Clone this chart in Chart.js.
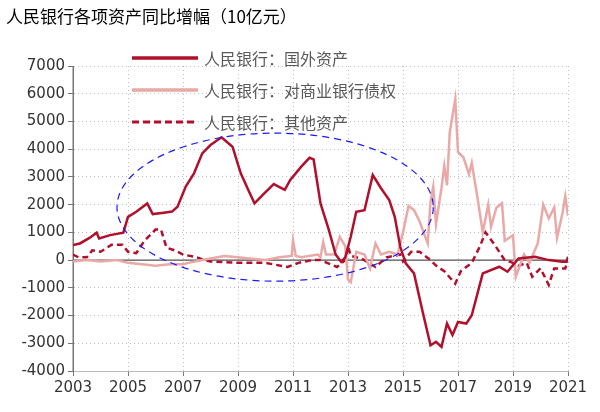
<!DOCTYPE html>
<html><head><meta charset="utf-8">
<script src="https://cdn.jsdelivr.net/npm/chart.js@4"></script>
<style>
body{margin:0;width:600px;height:412px;overflow:hidden;background:#fff;font-family:"Noto Sans CJK SC",sans-serif}
#wrap{position:absolute;left:0;top:0;width:600px;height:412px}
#title{position:absolute;left:6px;top:3px;font-size:17px;color:#000}
.lg{position:absolute;left:132px;font-size:16px;color:#595959;display:flex;align-items:center}
.lg svg{margin-right:6px}
</style></head><body>
<div id="wrap"><canvas id="c" width="600" height="412"></canvas></div>
<div id="title">人民银行各项资产同比增幅（10亿元）</div>
<div class="lg" style="top:46px"><svg width="66" height="6"><line x1="0" y1="3" x2="66" y2="3" stroke="#B0102C" stroke-width="3.5"/></svg>人民银行：国外资产</div>
<div class="lg" style="top:78px"><svg width="66" height="6"><line x1="0" y1="3" x2="66" y2="3" stroke="#E8A9A7" stroke-width="3.5"/></svg>人民银行：对商业银行债权</div>
<div class="lg" style="top:110px"><svg width="66" height="6"><line x1="0" y1="3" x2="66" y2="3" stroke="#B0102C" stroke-width="3" stroke-dasharray="7,4"/></svg>人民银行：其他资产</div>
<script>
const foreignX=[2003.0,2003.25,2003.6,2003.86,2003.95,2004.35,2004.83,2005.0,2005.3,2005.7,2005.9,2006.3,2006.6,2006.8,2007.1,2007.4,2007.7,2008.0,2008.4,2008.8,2009.1,2009.4,2009.6,2009.9,2010.3,2010.7,2010.9,2011.3,2011.6,2011.75,2012.0,2012.3,2012.55,2012.75,2012.9,2013.1,2013.3,2013.6,2013.9,2014.2,2014.5,2014.7,2014.9,2015.1,2015.4,2015.7,2016.0,2016.2,2016.4,2016.6,2016.8,2017.0,2017.3,2017.5,2017.9,2018.5,2018.8,2019.2,2019.8,2020.3,2020.8,2020.95,2021.0];
const foreignY=[540,600,800,990,780,900,990,1560,1745,2045,1660,1710,1750,1925,2650,3130,3850,4150,4430,4090,3130,2470,2045,2350,2740,2530,2890,3370,3690,3630,2045,1100,200,-60,100,840,1745,1800,3070,2590,2165,1560,480,-120,-480,-1800,-3070,-2950,-3130,-2290,-2700,-2230,-2290,-1990,-480,-240,-420,60,120,0,-60,-60,120];
const loansX=[2003.0,2003.5,2004.0,2004.6,2005.0,2005.5,2006.0,2006.5,2007.0,2007.2,2007.7,2008.5,2009.0,2009.5,2010.0,2010.5,2010.95,2011.0,2011.1,2011.3,2011.9,2012.0,2012.1,2012.2,2012.5,2012.7,2012.9,2013.0,2013.1,2013.3,2013.6,2013.8,2014.0,2014.2,2014.5,2014.8,2015.0,2015.2,2015.4,2015.6,2015.9,2016.0,2016.1,2016.2,2016.4,2016.5,2016.6,2016.7,2016.9,2017.0,2017.2,2017.4,2017.5,2017.7,2017.9,2018.1,2018.2,2018.4,2018.6,2018.7,2019.0,2019.1,2019.4,2019.6,2019.9,2020.1,2020.3,2020.5,2020.6,2020.8,2020.9,2021.0];
const loansY=[-50,0,-50,0,-100,-150,-200,-150,-150,-100,0,150,100,50,0,100,150,720,150,100,200,100,650,200,200,840,500,-700,-800,300,200,-300,600,200,300,200,1000,1950,1800,1400,600,2100,2650,1300,2600,3400,2700,4600,5800,3900,3700,3100,3500,2300,1000,2000,1200,1900,2050,700,900,-600,200,-100,600,2000,1500,1900,800,1700,2300,1600];
const otherX=[2003.0,2003.2,2003.5,2003.7,2004.0,2004.4,2004.8,2005.0,2005.3,2005.6,2006.0,2006.2,2006.4,2006.7,2007.0,2007.5,2007.8,2008.0,2009.0,2010.0,2010.8,2011.2,2011.7,2012.0,2012.6,2012.9,2013.0,2013.1,2013.5,2014.0,2014.4,2014.9,2015.0,2015.3,2015.6,2016.0,2016.2,2016.5,2016.9,2017.1,2017.5,2017.8,2018.0,2018.3,2018.7,2019.0,2019.2,2019.5,2019.7,2020.0,2020.3,2020.5,2020.9,2021.0];
const otherY=[200,100,100,350,300,550,550,300,250,700,1100,1100,450,350,200,100,0,-50,-100,-100,-250,-100,0,0,-250,0,500,150,50,-250,100,200,-50,300,300,0,-200,-400,-850,-400,-100,500,1000,600,0,-100,-200,-100,-600,-300,-900,-300,-300,0];
const yearTicks=[2003,2005,2007,2009,2011,2013,2015,2017,2019,2021];
const zip=(xs,ys)=>xs.map((x,i)=>({x:x,y:ys[i]}));
const deco={id:'deco',beforeDatasetsDraw(ch){const {ctx,scales:{x,y},chartArea:a}=ch;ctx.save();ctx.strokeStyle='#555';ctx.lineWidth=1.2;ctx.beginPath();ctx.moveTo(a.left,y.getPixelForValue(0));ctx.lineTo(a.right,y.getPixelForValue(0));ctx.stroke();
ctx.strokeStyle='#777';ctx.lineWidth=1;ctx.beginPath();ctx.moveTo(a.left,a.top);ctx.lineTo(a.left,a.bottom);ctx.stroke();ctx.restore();},
afterDatasetsDraw(ch){const {ctx,scales:{x,y}}=ch;const cx=x.getPixelForValue(2010.35),cy=y.getPixelForValue(1910);const rx=x.getPixelForValue(2010.35+5.75)-cx,ry=cy-y.getPixelForValue(1910+2670);ctx.save();ctx.strokeStyle='#1a1aff';ctx.lineWidth=1.2;ctx.setLineDash([7,5]);ctx.beginPath();ctx.ellipse(cx,cy,rx,ry,0,0,Math.PI*2);ctx.stroke();ctx.restore();}};
new Chart(document.getElementById('c'),{type:'line',
data:{datasets:[
{data:zip(foreignX,foreignY),borderColor:'#B0102C',borderWidth:2.5,pointRadius:0,tension:0},
{data:zip(loansX,loansY),borderColor:'#E8A9A7',borderWidth:2.5,pointRadius:0,tension:0},
{data:zip(otherX,otherY),borderColor:'#B0102C',borderWidth:2.5,borderDash:[6,4],pointRadius:0,tension:0}]},
options:{responsive:false,animation:false,layout:{padding:{top:66,right:32,left:0,bottom:0}},
plugins:{legend:{display:false},tooltip:{enabled:false}},
scales:{
x:{type:'linear',min:2003,max:2021,afterFit(s){s.height=41;},afterBuildTicks(s){s.ticks=yearTicks.map(v=>({value:v}));},
ticks:{color:'#333',font:{family:'DejaVu Sans',size:15},maxRotation:0,callback:v=>String(v)},
grid:{color:'#bbb',tickColor:'#777',tickLength:5,drawTicks:true},border:{color:'#bbb',dash:[1,3]}},
y:{min:-4000,max:7000,afterFit(s){s.width=73;},ticks:{stepSize:1000,color:'#333',font:{family:'DejaVu Sans',size:15},callback:v=>String(v)},
grid:{color:'#bbb',tickColor:'#777',tickLength:5},border:{color:'#777',dash:[1,3]}}}},
plugins:[deco]});
</script></body></html>
